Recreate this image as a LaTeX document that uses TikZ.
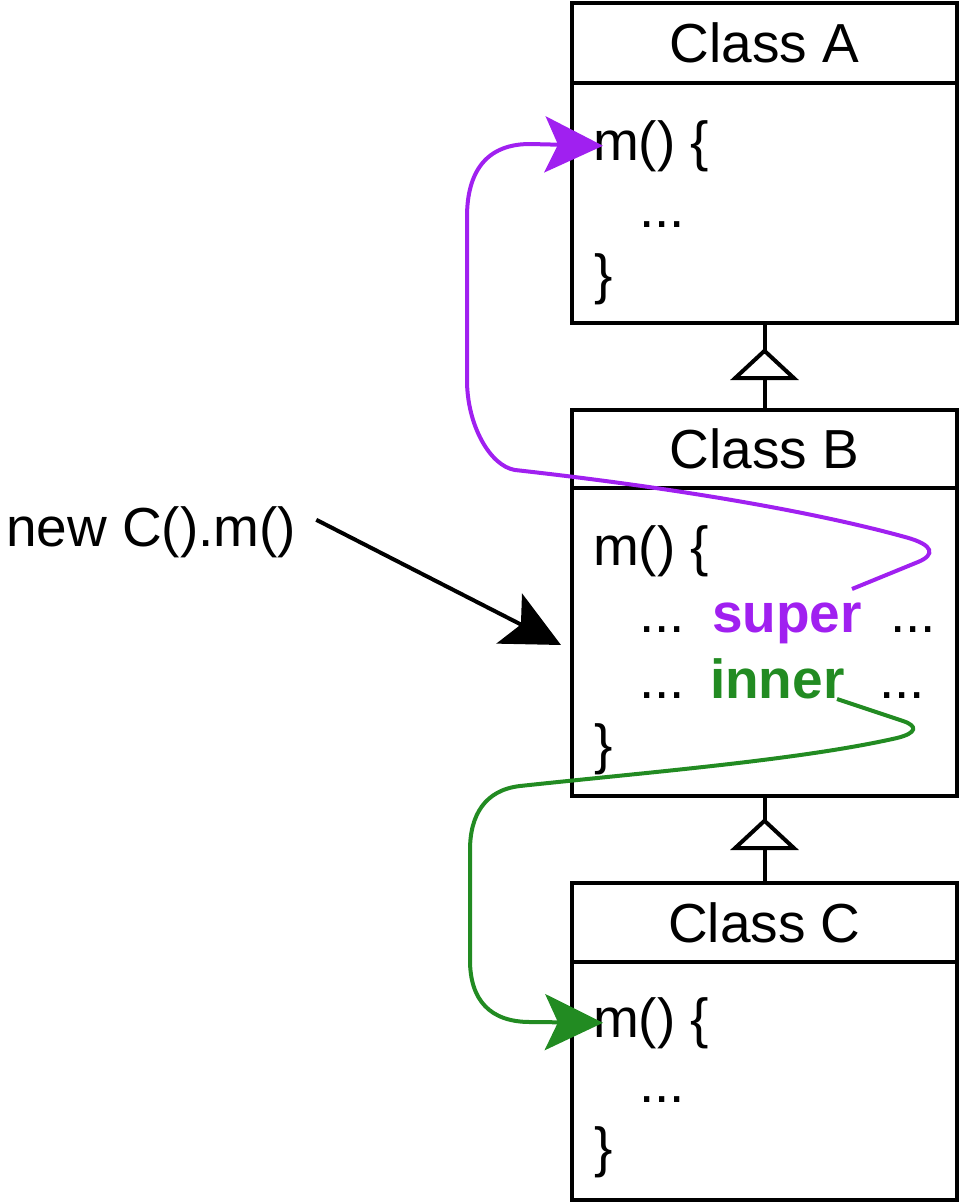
\documentclass[tikz,border=0pt]{standalone}
\usepackage{fontspec}
\setmainfont{Liberation Sans}
\usetikzlibrary{arrows.meta, decorations.markings}
\definecolor{supercol}{HTML}{A020F0}
\definecolor{innercol}{HTML}{228B22}

\begin{document}
\begin{tikzpicture}[x=1pt, y=-1pt, line width=4pt,
    font=\fontsize{55pt}{66pt}\selectfont,
    box/.style={draw, minimum width=385pt, inner sep=0pt, outer sep=0pt},
    code/.style={anchor=base west, inner sep=0pt},
    tip/.style={-{Stealth[length=58pt, width=56pt, inset=13pt]}},
    inherit/.style={postaction={decorate, decoration={markings,
      mark=at position #1 with {\arrow{Triangle[fill=white, length=32pt, width=68pt]}}}}}]
  \useasboundingbox (0,0) rectangle (961,1202);

  % class A
  \node[box, minimum height=80pt] (headA) at (764.5,43) {Class A};
  \node[box, minimum height=240pt, anchor=north] (bodyA) at (headA.south) {};
  \node[code] (mA) at (591,160) {m() \{};
  \node[code] (dotsA) at (637,227) {...};
  \node[code] (endA) at (592,293) {\}};

  % class B
  \node[box, minimum height=78pt] (headB) at (764.5,449) {Class B};
  \node[box, minimum height=308pt, anchor=north] (bodyB) at (headB.south) {};
  \node[code] (mB) at (591,565) {m() \{};
  \node[code] (dotsB1) at (637,632) {...};
  \node[code, text=supercol] (super) at (710,632) {\textbf{super}};
  \node[code] (dotsB2) at (888,632) {...};
  \node[code] (dotsB3) at (637,698) {...};
  \node[code, text=innercol] (inner) at (708,698) {\textbf{inner}};
  \node[code] (dotsB4) at (877,698) {...};
  \node[code] (endB) at (592,763) {\}};

  % class C
  \node[box, minimum height=79pt] (headC) at (764.5,922.5) {Class C};
  \node[box, minimum height=238pt, anchor=north] (bodyC) at (headC.south) {};
  \node[code] (mC) at (591,1037) {m() \{};
  \node[code] (dotsC) at (637,1102) {...};
  \node[code] (endC) at (592,1166) {\}};

  \node[code] (call) at (4,546) {new C().m()};

  % inheritance
  \draw[inherit=0.712] (headB.north) -- (bodyA.south);
  \draw[inherit=0.747] (headC.north) -- (bodyB.south);

  % calls
  \draw[tip] ([xshift=18pt, yshift=12pt]call.east) -- ([xshift=-11pt, yshift=-3pt]bodyB.west);

  \coordinate (superout) at (852,589);
  \draw[supercol, tip] (superout) -- (918,562)
    .. controls (935,555) and (935,545) .. (905,537)
    .. controls (800,508) and (650,485) .. (515,470)
    .. controls (490,466) and (467,425) .. (467,380)
    -- (467,217)
    .. controls (467,180) and (480,144) .. (530,144)
    -- ([xshift=12pt]mA.west);

  \coordinate (innerout) at (837,699);
  \draw[innercol, tip] (innerout) -- (903,721)
    .. controls (918,726) and (917,733) .. (897,738)
    .. controls (800,760) and (650,772) .. (520,786)
    .. controls (485,790) and (470,815) .. (470,850)
    -- (470,960)
    .. controls (470,1000) and (490,1022) .. (530,1022)
    -- ([xshift=12pt]mC.west);
\end{tikzpicture}
\end{document}
